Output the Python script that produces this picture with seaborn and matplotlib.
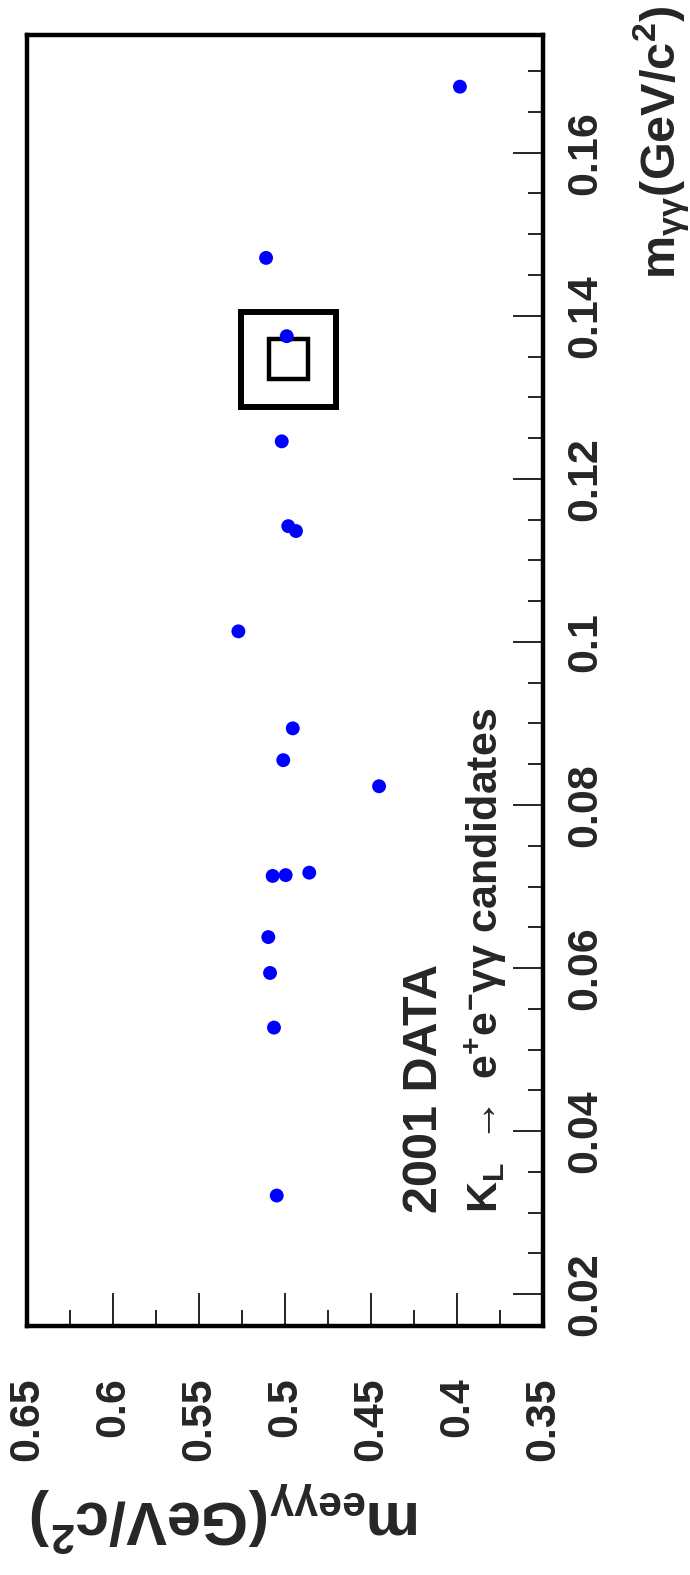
import numpy as np
import pandas as pd
import matplotlib
matplotlib.use("Agg")
import matplotlib.pyplot as plt
import matplotlib.ticker as mticker
from matplotlib.patches import Rectangle
import seaborn as sns

# ---- data ----
m_eegg = [0.3983, 0.5110, 0.4990, 0.5019, 0.4981, 0.4936, 0.5271, 0.4955, 0.5010,
          0.4453, 0.5072, 0.4996, 0.4859, 0.5097, 0.5087, 0.5064, 0.5048]
m_gg = [0.1681, 0.1471, 0.1375, 0.1246, 0.1142, 0.1136, 0.1013, 0.0894, 0.0855,
        0.0823, 0.0713, 0.0714, 0.0717, 0.0638, 0.0594, 0.0527, 0.0321]

# signal boxes: (m_eegg_lo, m_eegg_hi, m_gg_lo, m_gg_hi)
box_outer = [0.4703, 0.5253, 0.1288, 0.1405]
box_inner = [0.4866, 0.5093, 0.1323, 0.1372]

eegg_ticks = [0.65, 0.6, 0.55, 0.5, 0.45, 0.4, 0.35]
eegg_ticklabels = ["0.65", "0.6", "0.55", "0.5", "0.45", "0.4", "0.35"]
gg_ticks = [0.02, 0.04, 0.06, 0.08, 0.10, 0.12, 0.14, 0.16]
gg_ticklabels = ["0.02", "0.04", "0.06", "0.08", "0.1", "0.12", "0.14", "0.16"]
eegg_lim = (0.65, 0.35)
gg_lim = (0.0161, 0.1745)

df = pd.DataFrame({"m_eegg": m_eegg, "m_gg": m_gg})

sns.set_style("white")
plt.rcParams["font.family"] = ["Liberation Sans", "DejaVu Sans"]
plt.rcParams["mathtext.default"] = "regular"

W, H = 690, 1575
fig = plt.figure(figsize=(W / 100, H / 100), dpi=100)
fig.patch.set_facecolor("white")

L, R, T, B = 27, 543, 34.5, 1326
ax = fig.add_axes([L / W, 1 - B / H, (R - L) / W, (B - T) / H])
ax.set_facecolor("white")

# boxes
for bx, lw in ((box_outer, 4.3), (box_inner, 3.2)):
    ax.add_patch(Rectangle((bx[0], bx[2]), bx[1] - bx[0], bx[3] - bx[2],
                           fill=False, edgecolor="black", linewidth=lw, zorder=2))

sns.scatterplot(data=df, x="m_eegg", y="m_gg", ax=ax, color="#0000ff",
                s=100, edgecolor="none", marker="o", zorder=3, legend=False)

ax.set_xlim(*eegg_lim)
ax.set_ylim(*gg_lim)

for side, sp in ax.spines.items():
    sp.set_visible(True)
    sp.set_color("black")
    sp.set_linewidth(3.2)

# bottom axis: m_eegg
ax.xaxis.set_ticks_position("bottom")
ax.set_xticks(eegg_ticks)
ax.set_xticklabels(eegg_ticklabels, rotation=90, fontsize=31, fontweight="bold",
                   va="top", ha="center")
ax.xaxis.set_minor_locator(mticker.MultipleLocator(0.025))
ax.tick_params(axis="x", which="major", direction="in", length=24, width=1.2,
               pad=37, bottom=True, top=False, color="black")
ax.tick_params(axis="x", which="minor", direction="in", length=11.5, width=1.2,
               bottom=True, top=False, color="black")

# right axis: m_gg
ax.yaxis.set_ticks_position("right")
ax.set_yticks(gg_ticks)
ax.set_yticklabels(gg_ticklabels, rotation=90, fontsize=31, fontweight="bold",
                   va="center", ha="left")
ax.yaxis.set_minor_locator(mticker.MultipleLocator(0.005))
ax.tick_params(axis="y", which="major", direction="in", length=21.6, width=1.2,
               pad=16, right=True, left=False, labelright=True, labelleft=False,
               color="black")
ax.tick_params(axis="y", which="minor", direction="in", length=10.8, width=1.2,
               right=True, left=False, color="black")

ax.set_xlabel("")
ax.set_ylabel("")

# axis titles
fig.text(662 / W, 1 - 6 / H, r"m$_{\gamma\gamma}$(GeV/c$^{2}$)", rotation=90,
         fontsize=35, fontweight="bold", ha="center", va="top")
fig.text(30 / W, 1 - 1518 / H, r"m$_{ee\gamma\gamma}$(GeV/c$^{2}$)", rotation=180,
         fontsize=44, fontweight="bold", ha="left", va="center")

# annotations
fig.text(424 / W, 1 - 1213 / H, "2001 DATA", rotation=90, fontsize=35,
         fontweight="bold", ha="center", va="bottom")
fig.text(486 / W, 1 - 1213 / H,
         r"K$_{L}$ $\rightarrow$ e$^{+}$e$^{-}$$\gamma\gamma$ candidates",
         rotation=90, fontsize=31, fontweight="bold", ha="center", va="bottom")

fig.savefig("out.png", dpi=100, facecolor="white")
